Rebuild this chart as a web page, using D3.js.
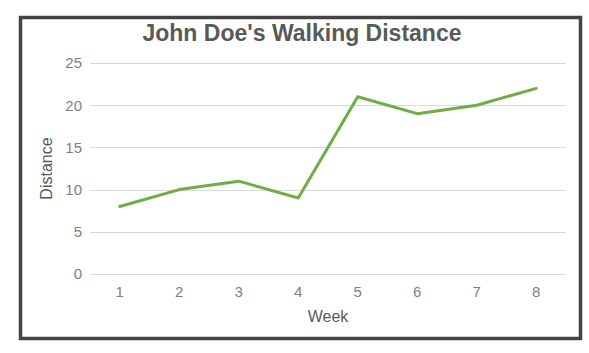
<!DOCTYPE html>
<html><head><meta charset="utf-8">
<script src="https://cdn.jsdelivr.net/npm/d3@7"></script>
<style>body{margin:0;background:#fff}svg{display:block;font-family:"Liberation Sans",Arial,sans-serif}</style>
</head><body><svg id="c" width="589" height="353"></svg>
<script>
const weeks = ["1","2","3","4","5","6","7","8"];
const distance = [8, 10, 11, 9, 21, 19, 20, 22];
const yTicks = [0, 5, 10, 15, 20, 25];
const title = "John Doe's Walking Distance";

const svg = d3.select("#c");
svg.append("rect").attr("x", 20.5).attr("y", 17.5).attr("width", 560).attr("height", 321)
  .attr("fill", "#fff").attr("stroke", "#444").attr("stroke-width", 3.5);

const x = d3.scaleBand().domain(weeks).range([90, 566]);
const y = d3.scaleLinear().domain([0, 25]).range([274, 63]);

const grid = svg.append("g");
grid.selectAll("line").data(yTicks).join("line")
  .attr("x1", 90).attr("x2", 566)
  .attr("y1", d => Math.round(y(d)) + 0.5).attr("y2", d => Math.round(y(d)) + 0.5)
  .attr("stroke", "#d9d9d9").attr("stroke-width", 1.2);

const yAxis = svg.append("g").attr("transform", "translate(90,0)")
  .call(d3.axisLeft(y).tickValues(yTicks).tickSize(0).tickPadding(8));
yAxis.select(".domain").remove();
yAxis.selectAll("text").attr("fill", "#7f7f7f").attr("font-size", 15).style("font-family", "Liberation Sans, Arial, sans-serif");

const xAxis = svg.append("g").attr("transform", "translate(0,274)")
  .call(d3.axisBottom(x).tickSize(0).tickPadding(12));
xAxis.select(".domain").remove();
xAxis.selectAll("text").attr("fill", "#7f7f7f").attr("font-size", 15).style("font-family", "Liberation Sans, Arial, sans-serif");

const line = d3.line().x((d, i) => x(weeks[i]) + x.bandwidth() / 2).y(d => y(d));
svg.append("path").datum(distance).attr("d", line)
  .attr("fill", "none").attr("stroke", "#70ad47").attr("stroke-width", 3)
  .attr("stroke-linejoin", "round").attr("stroke-linecap", "round");

svg.append("text").attr("x", 302).attr("y", 41).attr("text-anchor", "middle")
  .attr("font-size", 23).attr("font-weight", "bold").attr("fill", "#595959").text(title);
svg.append("text").attr("x", 328).attr("y", 322).attr("text-anchor", "middle")
  .attr("font-size", 16).attr("fill", "#595959").text("Week");
svg.append("text").attr("transform", "translate(52,168.5) rotate(-90)").attr("text-anchor", "middle")
  .attr("font-size", 16).attr("fill", "#595959").text("Distance");
</script></body></html>
